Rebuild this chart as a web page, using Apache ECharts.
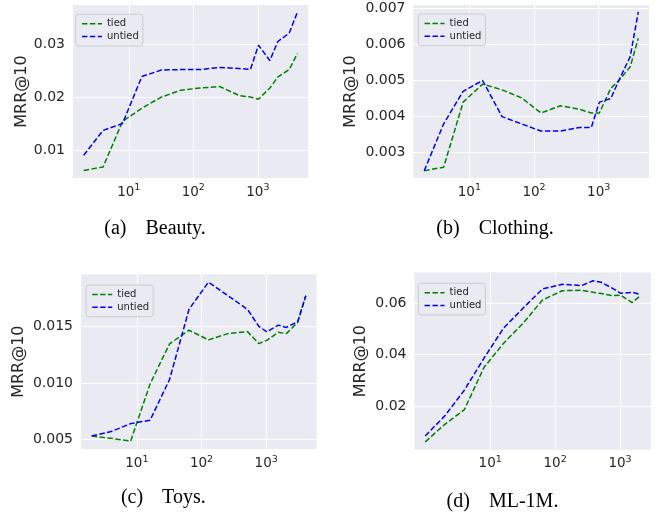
<!DOCTYPE html>
<html>
<head>
<meta charset="utf-8">
<script src="https://cdn.jsdelivr.net/npm/echarts@6/dist/echarts.min.js"></script>
<style>html,body{margin:0;padding:0;background:#fff;}#c{width:657px;height:518px;}</style>
</head>
<body>
<div id="c"></div>
<script>
// ---- data ----
const xSteps = [2, 4, 8, 16, 32, 64, 128, 256, 512, 768, 1024, 1536, 2048, 3072, 4096];
const xStepsML = [1, 2, 4, 8, 16, 32, 64, 128, 256, 384, 512, 768, 1024, 1536, 2048];

const beautyTied   = [0.0062, 0.0069, 0.0155, 0.0180, 0.0201, 0.0214, 0.0218, 0.0221, 0.0204, 0.0201, 0.0197, 0.0218, 0.0239, 0.0253, 0.0283];
const beautyUntied = [0.0091, 0.0138, 0.0151, 0.0240, 0.0252, 0.0253, 0.0253, 0.0257, 0.0255, 0.0253, 0.0299, 0.0270, 0.0306, 0.0322, 0.0361];

const clothingTied   = [0.0025, 0.0026, 0.0044, 0.0049, 0.00474, 0.00452, 0.0041, 0.0043, 0.0042, 0.0041, 0.0041, 0.00478, 0.0050, 0.00538, 0.00617];
const clothingUntied = [0.0025, 0.0038, 0.0047, 0.0050, 0.0040, 0.0038, 0.0036, 0.0036, 0.0037, 0.0037, 0.0044, 0.0045, 0.0050, 0.00566, 0.00690];

const toysTied   = [0.0053, 0.0051, 0.00485, 0.0099, 0.01345, 0.01465, 0.0138, 0.01435, 0.01453, 0.01347, 0.01376, 0.01447, 0.01435, 0.01535, 0.0177];
const toysUntied = [0.0053, 0.0057, 0.0064, 0.0067, 0.0103, 0.0165, 0.0189, 0.0177, 0.0165, 0.0150, 0.0145, 0.0151, 0.0149, 0.0154, 0.0177];

const mlTied   = [0.0061, 0.0129, 0.0186, 0.0350, 0.0444, 0.0522, 0.0613, 0.0649, 0.0651, 0.0643, 0.0638, 0.0630, 0.0632, 0.0603, 0.0629];
const mlUntied = [0.0084, 0.0162, 0.0262, 0.0386, 0.0503, 0.0581, 0.0656, 0.0674, 0.0669, 0.0688, 0.0682, 0.0658, 0.0639, 0.0643, 0.0635];

const xTickValues = [10, 100, 1000];
const yTicksBeauty = [0.01, 0.02, 0.03];
const yTicksClothing = [0.003, 0.004, 0.005, 0.006, 0.007];
const yTicksToys = [0.005, 0.010, 0.015];
const yTicksML = [0.02, 0.04, 0.06];

const seriesNames = ['tied', 'untied'];
const yAxisName = 'MRR@10';
const captions = [['(a)', 'Beauty.'], ['(b)', 'Clothing.'], ['(c)', 'Toys.'], ['(d)', 'ML-1M.']];

// ---- layout / style ----
const BG = '#EAEAF2';
const TXT = '#262626';
const COLORS = {tied: '#008000', untied: '#0000ff'};

const panels = [
  {x: xSteps, tied: beautyTied, untied: beautyUntied, yTicks: yTicksBeauty, dec: 2,
   grid: {left: 73, top: 5, width: 235, height: 173}, xmin: 1.366, xmax: 5997, ymin: 0.0048, ymax: 0.0375,
   nameGap: 43, legend: {left: 75.7, top: 14.3}, cap: {x: 155, y: 217}},
  {x: xSteps, tied: clothingTied, untied: clothingUntied, yTicks: yTicksClothing, dec: 3,
   grid: {left: 413.5, top: 5, width: 235.5, height: 173}, xmin: 1.366, xmax: 5997, ymin: 0.0023, ymax: 0.00709,
   nameGap: 55, legend: {left: 418.3, top: 14}, cap: {x: 495, y: 217}},
  {x: xSteps, tied: toysTied, untied: toysUntied, yTicks: yTicksToys, dec: 3,
   grid: {left: 81, top: 274.2, width: 235.5, height: 174.9}, xmin: 1.366, xmax: 5997, ymin: 0.00415, ymax: 0.0196,
   nameGap: 54, legend: {left: 86, top: 285}, cap: {x: 163.3, y: 486}},
  {x: xStepsML, tied: mlTied, untied: mlUntied, yTicks: yTicksML, dec: 2,
   grid: {left: 414.5, top: 272.5, width: 236.5, height: 177.3}, xmin: 0.683, xmax: 2999, ymin: 0.003, ymax: 0.072,
   nameGap: 46, legend: {left: 418.3, top: 283.3}, cap: {x: 502.5, y: 489.5}}
];

const grids = [], xAxes = [], yAxes = [], series = [], legends = [], titles = [];
panels.forEach((p, i) => {
  grids.push(Object.assign({show: true, backgroundColor: BG, borderWidth: 0, containLabel: false}, p.grid));
  xAxes.push({
    type: 'log', logBase: 10, gridIndex: i, min: p.xmin, max: p.xmax,
    axisLine: {show: false}, axisTick: {show: false, customValues: xTickValues},
    splitLine: {show: true, lineStyle: {color: '#ffffff', width: 1}},
    axisLabel: {
      customValues: xTickValues, margin: 5,
      formatter: v => '{b|10}{s|' + Math.round(Math.log10(v)) + '}',
      rich: {
        b: {fontFamily: 'DejaVu Sans', fontSize: 13.5, color: TXT, lineHeight: 16, verticalAlign: 'bottom'},
        s: {fontFamily: 'DejaVu Sans', fontSize: 9.5, color: TXT, lineHeight: 10, verticalAlign: 'top'}
      }
    }
  });
  yAxes.push({
    type: 'value', gridIndex: i, min: p.ymin, max: p.ymax,
    name: yAxisName, nameLocation: 'middle', nameGap: p.nameGap,
    nameTextStyle: {fontFamily: 'DejaVu Sans', fontSize: 16, color: TXT},
    axisLine: {show: false}, axisTick: {show: false, customValues: p.yTicks},
    splitLine: {show: true, lineStyle: {color: '#ffffff', width: 1}},
    axisLabel: {customValues: p.yTicks, margin: 8, fontFamily: 'DejaVu Sans', fontSize: 14, color: TXT,
      formatter: v => v.toFixed(p.dec)}
  });
  seriesNames.forEach(n => {
    series.push({
      type: 'line', name: n, xAxisIndex: i, yAxisIndex: i,
      data: p.x.map((x, k) => [x, p[n][k]]),
      symbol: 'none', showSymbol: false, silent: true, animation: false,
      lineStyle: {color: COLORS[n], width: 1.5, type: [5.5, 2.4]},
      itemStyle: {color: COLORS[n]}
    });
  });
  legends.push({
    data: seriesNames, orient: 'vertical', left: p.legend.left, top: p.legend.top,
    padding: [4.5, 4, 4.5, 5.5], itemWidth: 20, itemHeight: 10, itemGap: 2.7,
    backgroundColor: 'rgba(234,234,242,0.8)', borderColor: '#cccccc', borderWidth: 1, borderRadius: 3,
    textStyle: {fontFamily: 'DejaVu Sans', fontSize: 10, color: TXT},
    itemStyle: {opacity: 0, borderWidth: 0},
    lineStyle: {type: [5.5, 2.4], width: 1.5},
    selectedMode: false
  });
  titles.push({
    text: '{p|' + captions[i][0] + '}{q|' + captions[i][1] + '}',
    left: p.cap.x, top: p.cap.y, textAlign: 'center', padding: 0,
    textStyle: {fontWeight: 'normal', rich: {
      p: {fontFamily: 'Liberation Serif', fontSize: 20, fontWeight: 'normal', color: '#000', lineHeight: 24},
      q: {fontFamily: 'Liberation Serif', fontSize: 20, fontWeight: 'normal', color: '#000', lineHeight: 24, padding: [0, 0, 0, 19]}
    }}
  });
});

const chart = echarts.init(document.getElementById('c'), null, {renderer: 'canvas'});
chart.setOption({
  animation: false, backgroundColor: '#ffffff',
  title: titles, legend: legends, grid: grids, xAxis: xAxes, yAxis: yAxes, series: series
});
</script>
</body>
</html>
